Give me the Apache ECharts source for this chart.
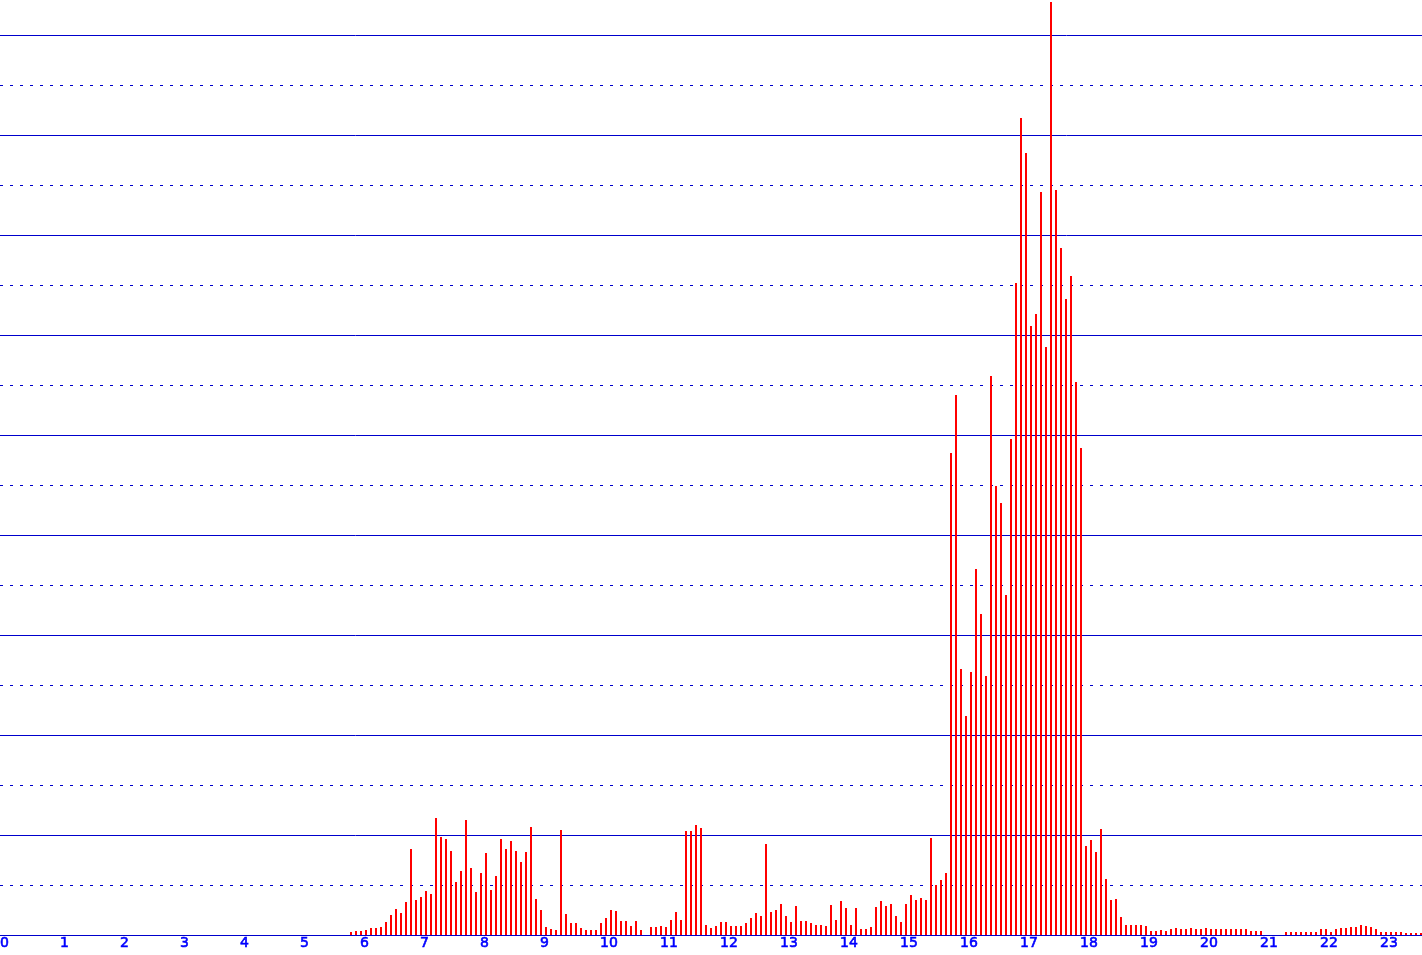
<!DOCTYPE html>
<html>
<head>
<meta charset="utf-8">
<script src="https://cdn.jsdelivr.net/npm/echarts@6/dist/echarts.min.js"></script>
<style>
html,body{margin:0;padding:0;background:#fff;}
#chart{width:1422px;height:955px;}
</style>
</head>
<body>
<div id="chart"></div>
<script>
// Tick labels (hours of the day)
var hourLabels = ['0','1','2','3','4','5','6','7','8','9','10','11','12','13','14','15','16','17','18','19','20','21','22','23'];
// First 5-minute slot shown (minutes after midnight) and slot length
var firstSlotMinute = 350;
var slotMinutes = 5;
// Values per 5-minute slot, morning 05:50 - 09:55
var morningValues = [0.3,0.4,0.4,0.5,0.7,0.7,0.8,1.3,2.0,2.6,2.2,3.3,8.6,3.5,3.8,4.4,4.1,11.7,9.8,9.6,8.4,5.3,6.4,11.5,6.7,4.3,
  6.2,8.2,4.5,5.9,9.6,8.6,9.4,8.4,7.3,8.3,10.8,3.6,2.5,0.8,0.6,0.5,10.5,2.1,1.2,1.2,0.7,0.5,0.5,0.5];
// 10:00 - 15:45
var middayValues = [1.2,1.7,2.5,2.4,1.4,1.4,0.9,1.4,0.5,0,0.8,0.8,0.9,0.8,1.5,2.3,1.5,10.4,10.4,11.0,10.7,1.0,0.7,0.9,1.3,1.3,0.9,0.9,0.9,1.2,1.7,2.2,
  1.9,9.1,2.3,2.5,3.1,1.9,1.3,2.9,1.4,1.4,1.2,1.0,1.0,0.9,3.0,1.5,3.4,2.7,1.0,2.7,0.6,0.6,0.8,2.8,3.4,2.9,3.1,1.9,
  1.3,3.1,4.0,3.5,3.7,3.5,9.7,5.0,5.5,6.2];
// 15:50 - 18:00
var peakValues = [48.2,54.0,26.6,21.9,26.3,36.6,32.1,25.9,55.9,44.9,43.2,34.0,49.6,65.2,81.7,78.2,60.9,62.1,74.3,58.8,93.3,74.5,68.7,63.6,65.9,55.3,48.7];
// 18:05 - 23:40
var eveningValues = [8.9,9.5,8.3,10.6,5.6,3.5,3.6,1.8,1.0,1.0,1.0,1.0,0.9,0.4,0.4,0.5,0.4,0.6,0.7,0.6,0.6,0.7,0.6,0.6,0.7,
  0.6,0.6,0.6,0.6,0.6,0.6,0.6,0.6,0.4,0.4,0.4,0,0,0,0,0.3,0.3,0.3,0.3,0.3,0.3,0.3,0.6,0.6,0.3,0.6,0.7,0.7,0.8,0.8,1.0,0.9,0.8,0.6,
  0.3,0.3,0.3,0.3,0.3,0.2,0.2,0.2,0.2];

var allValues = morningValues.concat(middayValues, peakValues, eveningValues);
// each bar is 2 minutes wide, drawn from the start of its slot
var barData = allValues.map(function (v, i) {
  return [firstSlotMinute + i * slotMinutes + 1, v];
});

var lineBlue = '#0000cc';
var chart = echarts.init(document.getElementById('chart'), null, {renderer: 'canvas'});
chart.setOption({
  backgroundColor: '#ffffff',
  animation: false,
  grid: {left: 0, right: 0, top: 35, bottom: 20, containLabel: false, outerBoundsMode: 'none'},
  xAxis: {
    type: 'value',
    min: 0,
    max: 1422,
    interval: 60,
    axisLine: {show: true, lineStyle: {color: lineBlue, width: 1}},
    axisTick: {show: false},
    splitLine: {show: false},
    axisLabel: {
      show: true,
      margin: 1,
      align: 'left',
      color: '#0000ff',
      fontFamily: 'DejaVu Sans',
      fontSize: 14,
      textBorderColor: '#0000ff',
      textBorderWidth: 0.6,
      showMaxLabel: false,
      hideOverlap: false,
      formatter: function (v) {
        return (v % 60 === 0 && hourLabels[v / 60] !== undefined) ? hourLabels[v / 60] : '';
      }
    }
  },
  yAxis: {
    type: 'value',
    min: 0,
    max: 90,
    interval: 10,
    axisLine: {show: false},
    axisTick: {show: false},
    axisLabel: {show: false},
    splitLine: {show: true, lineStyle: {color: lineBlue, width: 1, type: 'solid'}},
    minorTick: {show: false, splitNumber: 2},
    minorSplitLine: {show: true, lineStyle: {color: lineBlue, width: 1, type: [3, 7]}}
  },
  series: [{
    type: 'bar',
    data: barData,
    barWidth: 2,
    clip: false,
    itemStyle: {color: '#ff0000'},
    emphasis: {disabled: true}
  }]
});
</script>
</body>
</html>
